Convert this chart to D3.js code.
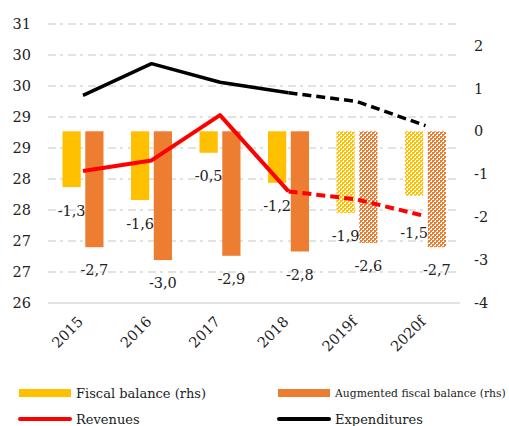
<!DOCTYPE html>
<html><head><meta charset="utf-8">
<script src="https://cdn.jsdelivr.net/npm/d3@7"></script>
<style>body{margin:0;background:#fff}svg{display:block}text{font-family:"DejaVu Serif",serif;fill:#222}</style>
</head><body><svg id="c" width="509" height="426"></svg>
<script>
const categories = ["2015","2016","2017","2018","2019f","2020f"];
const fiscalBalance = [-1.3,-1.6,-0.5,-1.2,-1.9,-1.5];
const augmentedBalance = [-2.7,-3.0,-2.9,-2.8,-2.6,-2.7];
const revenues = [28.13,28.3,29.03,27.8,27.67,27.4];
const expenditures = [29.35,29.86,29.56,29.39,29.25,28.86];
const forecast = [false,false,false,false,true,true];
const leftTicks = [26,26.5,27,27.5,28,28.5,29,29.5,30,30.5];
const rightTicks = [-4,-3,-2,-1,0,1,2];

const svg = d3.select("#c");
const x = d3.scaleBand().domain(categories).range([48.75,459.75]);
const sub = d3.scaleBand().domain(["fb","afb"]).range([13.75,54.75]).paddingInner(0.2);
const yL = d3.scaleLinear().domain([26,30.5]).range([303,24]);
const yR = d3.scaleLinear().domain([-4,2.5]).range([303,24]);
const cx = c => x(c) + x.bandwidth()/2;
const fmt = v => v.toFixed(1).replace(".", ",");

const defs = svg.append("defs");
function checker(id,color){
  const p = defs.append("pattern").attr("id",id).attr("patternUnits","userSpaceOnUse").attr("width",4).attr("height",4);
  p.append("rect").attr("width",4).attr("height",4).attr("fill","#fff");
  p.append("rect").attr("width",2).attr("height",2).attr("fill",color);
  p.append("rect").attr("x",2).attr("y",2).attr("width",2).attr("height",2).attr("fill",color);
  p.append("rect").attr("x",2).attr("y",0).attr("width",1).attr("height",1).attr("fill",color);
  p.append("rect").attr("x",0).attr("y",2).attr("width",1).attr("height",1).attr("fill",color);
}
checker("pY","#FFC000");
checker("pO","#ED7D31");

// gridlines
svg.append("g").selectAll("line").data(leftTicks.slice(1)).join("line")
  .attr("x1",48).attr("x2",460).attr("y1",d=>yL(d)).attr("y2",d=>yL(d))
  .attr("stroke","#D9D9D9").attr("stroke-width",1.3).attr("stroke-dasharray","8,4,3,5");
svg.append("line").attr("x1",48).attr("x2",460).attr("y1",yL(26)).attr("y2",yL(26))
  .attr("stroke","#D9D9D9").attr("stroke-width",1.3);

// left axis
const axL = svg.append("g").attr("transform","translate(31,0)")
  .call(d3.axisLeft(yL).tickValues(leftTicks).tickSize(0).tickPadding(0).tickFormat(d=>Math.round(d)));
axL.select(".domain").remove();
axL.selectAll("text").style("font-size","14.5px").style("font-family","DejaVu Serif").attr("fill","#222");

// right axis
const axR = svg.append("g").attr("transform","translate(474,0)")
  .call(d3.axisRight(yR).tickValues(rightTicks).tickSize(0).tickPadding(0).tickFormat(d=>d));
axR.select(".domain").remove();
axR.selectAll("text").style("font-size","14.5px").style("font-family","DejaVu Serif").attr("fill","#222");

// x axis labels (rotated)
const axX = svg.append("g").attr("transform","translate(0,319)")
  .call(d3.axisBottom(x).tickSize(0).tickPadding(0));
axX.select(".domain").remove();
axX.selectAll(".tick").attr("transform",d=>`translate(${cx(d)-2.5},0)`);
axX.selectAll("text").style("font-size","14.5px").style("font-family","DejaVu Serif").attr("fill","#222")
  .attr("text-anchor","end").attr("y",0).attr("dy","0.35em").attr("transform","rotate(-45)");

// bars
const bars = svg.append("g");
bars.selectAll(".fb").data(categories).join("rect")
  .attr("x",(c)=>x(c)+sub("fb")).attr("width",sub.bandwidth())
  .attr("y",yR(0)).attr("height",(c,i)=>yR(fiscalBalance[i])-yR(0))
  .attr("fill",(c,i)=>forecast[i]?"url(#pY)":"#FFC000");
bars.selectAll(".afb").data(categories).join("rect")
  .attr("x",(c)=>x(c)+sub("afb")).attr("width",sub.bandwidth())
  .attr("y",yR(0)).attr("height",(c,i)=>yR(augmentedBalance[i])-yR(0))
  .attr("fill",(c,i)=>forecast[i]?"url(#pO)":"#ED7D31");

// lines
function drawLine(vals,color,w){
  const pts = categories.map((c,i)=>[cx(c), yL(vals[i])]);
  const ln = d3.line();
  svg.append("path").attr("d",ln(pts.slice(0,4))).attr("fill","none").attr("stroke",color)
    .attr("stroke-width",w).attr("stroke-linejoin","round").attr("stroke-linecap","butt");
  svg.append("path").attr("d",ln(pts.slice(3))).attr("fill","none").attr("stroke",color)
    .attr("stroke-width",w).attr("stroke-dasharray","9,5").attr("stroke-linejoin","round");
}
drawLine(revenues,"#FF0000",4);
drawLine(expenditures,"#000000",3.5);

// data labels (last fiscal label nudged down below the dashed line, as in the source)
const labelGap = c => c === "2020f" ? 37 : 23.5;
const lab = svg.append("g").style("font-size","14.5px");
lab.selectAll(".l1").data(categories).join("text")
  .attr("x",c=>x(c)+sub("fb")+sub.bandwidth()/2).attr("y",(c,i)=>yR(fiscalBalance[i])+labelGap(c))
  .attr("dy","0.35em").attr("text-anchor","middle").text((c,i)=>fmt(fiscalBalance[i]));
lab.selectAll(".l2").data(categories).join("text")
  .attr("x",c=>x(c)+sub("afb")+sub.bandwidth()/2).attr("y",(c,i)=>yR(augmentedBalance[i])+23)
  .attr("dy","0.35em").attr("text-anchor","middle").text((c,i)=>fmt(augmentedBalance[i]));

// legend
const leg = svg.append("g").style("font-size","13px");
const items = [
  {t:"Fiscal balance (rhs)", c:"#FFC000", type:"rect", x:19, y:393},
  {t:"Augmented fiscal balance (rhs)", c:"#ED7D31", type:"rect", x:278, y:393},
  {t:"Revenues", c:"#FF0000", type:"line", x:19, y:419},
  {t:"Expenditures", c:"#000000", type:"line", x:278, y:419}
];
items.forEach(it=>{
  if(it.type==="rect") leg.append("rect").attr("x",it.x).attr("y",it.y-4).attr("width",52).attr("height",8).attr("fill",it.c);
  else leg.append("line").attr("x1",it.x+1).attr("x2",it.x+51).attr("y1",it.y).attr("y2",it.y).attr("stroke",it.c).attr("stroke-width",4).attr("stroke-linecap","round");
  const t = leg.append("text").attr("x",it.x+57).attr("y",it.y).attr("dy","0.35em").text(it.t);
  const maxW = 506 - (it.x+57);
  const w = t.node().getComputedTextLength();
  if (w > maxW) t.style("font-size", (13*maxW/w).toFixed(2)+"px");
});
</script></body></html>
